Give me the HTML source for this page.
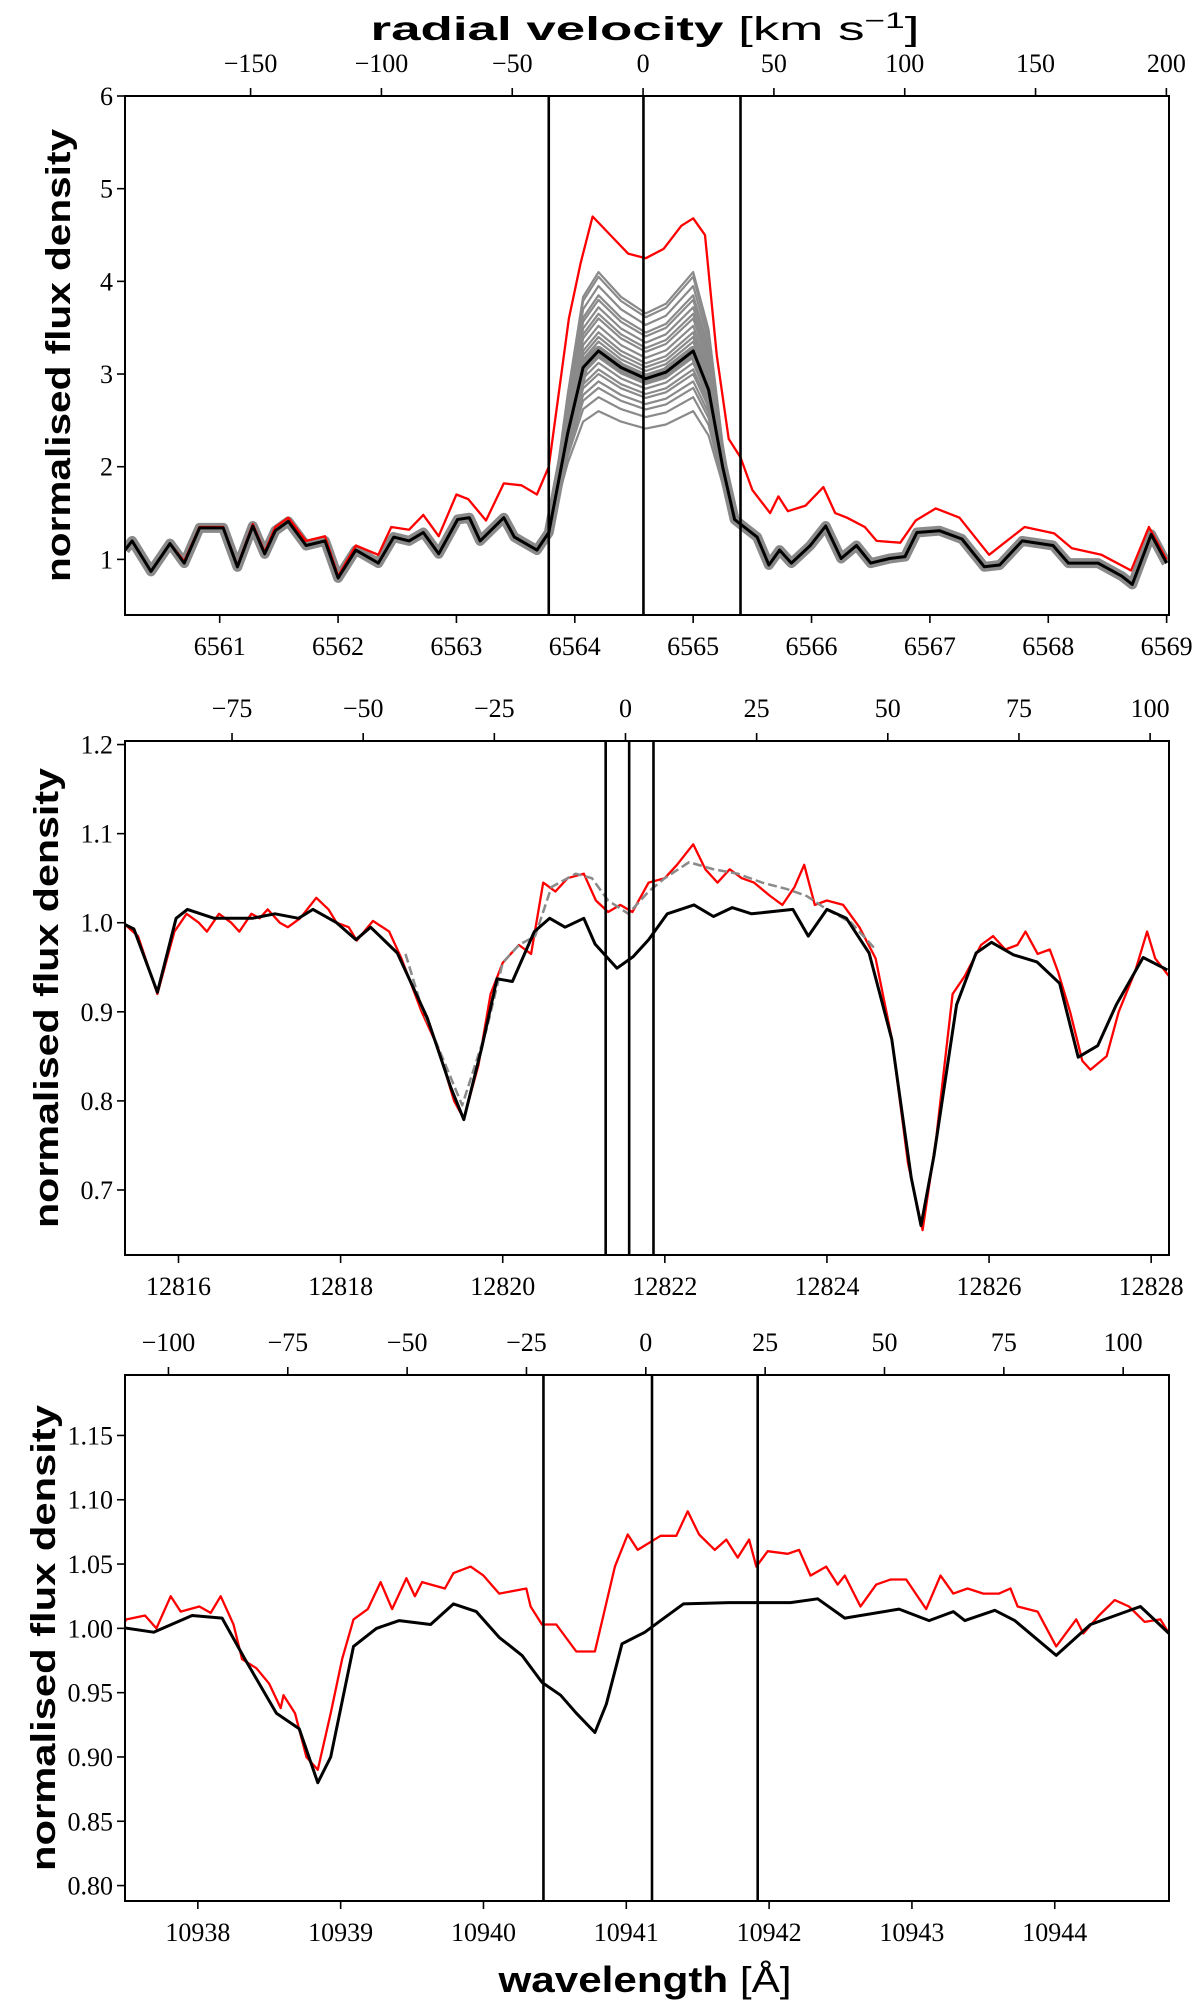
<!DOCTYPE html>
<html><head><meta charset="utf-8"><title>Spectral line profiles</title>
<style>
html,body{margin:0;padding:0;background:#fff;}
svg{display:block;}
.tl{font-family:"Liberation Serif",serif;font-size:26px;fill:#000;}
.ttl{font-family:"Liberation Sans",sans-serif;font-weight:bold;fill:#000;}
</style></head>
<body>
<svg id="fig" width="1200" height="2006" viewBox="0 0 1200 2006" xmlns="http://www.w3.org/2000/svg">
<text class="ttl" x="645" y="40" font-size="33" text-anchor="middle" textLength="549" lengthAdjust="spacingAndGlyphs">radial velocity <tspan font-weight="normal">[km s</tspan><tspan font-weight="normal" font-size="22" dy="-12">−1</tspan><tspan font-weight="normal" dy="12">]</tspan></text>
<text class="ttl" x="645" y="1992" font-size="36" text-anchor="middle" textLength="293" lengthAdjust="spacingAndGlyphs">wavelength <tspan font-weight="normal">[Å]</tspan></text>
</svg>
<script>
// ---------- Panel 1 (H-alpha) ----------
const p1BlackWl = [6560.2,6560.26,6560.42,6560.58,6560.7,6560.83,6561.03,6561.15,6561.28,6561.38,6561.47,6561.58,6561.73,6561.89,6562.0,6562.15,6562.34,6562.47,6562.6,6562.72,6562.85,6563.01,6563.11,6563.2,6563.4,6563.49,6563.68,6563.78,6563.94,6564.07,6564.2,6564.39,6564.6,6564.77,6565.0,6565.13,6565.25,6565.35,6565.54,6565.64,6565.73,6565.83,6565.99,6566.12,6566.25,6566.38,6566.5,6566.66,6566.79,6566.89,6567.08,6567.27,6567.46,6567.59,6567.78,6568.04,6568.17,6568.42,6568.62,6568.71,6568.87,6569.0];
const p1BlackFlux = [1.1,1.2,0.87,1.17,0.96,1.34,1.34,0.92,1.36,1.06,1.31,1.41,1.15,1.2,0.8,1.1,0.96,1.24,1.2,1.29,1.06,1.43,1.45,1.2,1.45,1.24,1.1,1.29,2.36,3.07,3.25,3.07,2.95,3.02,3.25,2.83,1.99,1.43,1.24,0.94,1.1,0.96,1.15,1.36,1.01,1.15,0.96,1.01,1.03,1.29,1.31,1.22,0.92,0.94,1.2,1.15,0.96,0.96,0.82,0.73,1.27,0.96];
const p1RedWl = [6560.2,6560.26,6560.42,6560.58,6560.7,6560.83,6561.03,6561.15,6561.28,6561.38,6561.47,6561.58,6561.73,6561.89,6562.0,6562.15,6562.34,6562.45,6562.6,6562.72,6562.85,6563.0,6563.1,6563.25,6563.4,6563.55,6563.68,6563.78,6563.95,6564.05,6564.15,6564.3,6564.45,6564.6,6564.75,6564.9,6565.0,6565.1,6565.2,6565.3,6565.4,6565.5,6565.65,6565.72,6565.8,6565.95,6566.1,6566.2,6566.3,6566.45,6566.55,6566.75,6566.88,6567.05,6567.25,6567.5,6567.8,6568.05,6568.2,6568.45,6568.7,6568.85,6569.0];
const p1RedFlux = [1.1,1.2,0.87,1.17,0.98,1.35,1.35,0.93,1.38,1.08,1.35,1.45,1.2,1.25,0.82,1.15,1.05,1.35,1.32,1.48,1.25,1.7,1.65,1.42,1.82,1.8,1.7,2.0,3.6,4.2,4.7,4.5,4.3,4.25,4.35,4.6,4.68,4.5,3.2,2.3,2.1,1.75,1.5,1.68,1.52,1.58,1.78,1.5,1.45,1.35,1.2,1.18,1.42,1.55,1.45,1.05,1.35,1.28,1.12,1.05,0.88,1.35,1.0];
const p1GreyPeaks = [4.1,4.05,3.95,3.85,3.8,3.72,3.65,3.6,3.52,3.45,3.4,3.35,3.28,3.18,3.12,3.05,3.0,2.92,2.85,2.75,2.6];
const p1Markers = [6563.78,6564.58,6565.40];
const p1YTicks = [1,2,3,4,5,6];
const p1XTicks = [6561,6562,6563,6564,6565,6566,6567,6568,6569];
const p1VTicks = [-150,-100,-50,0,50,100,150,200];

// ---------- Panel 2 (Pa-beta) ----------
const p2BlackWl = [12815.34,12815.45,12815.74,12815.97,12816.11,12816.44,12816.91,12817.19,12817.48,12817.66,12817.95,12818.19,12818.37,12818.7,12819.07,12819.36,12819.52,12819.74,12819.93,12820.12,12820.39,12820.58,12820.77,12821.0,12821.14,12821.41,12821.61,12821.8,12822.03,12822.36,12822.6,12822.83,12823.07,12823.58,12823.77,12824.0,12824.24,12824.52,12824.8,12825.04,12825.16,12825.32,12825.6,12825.84,12826.03,12826.3,12826.59,12826.87,12827.1,12827.34,12827.57,12827.9,12828.2];
const p2BlackFlux = [0.998,0.993,0.922,1.005,1.015,1.005,1.005,1.01,1.005,1.015,1.0,0.981,0.995,0.966,0.893,0.815,0.779,0.859,0.937,0.934,0.99,1.005,0.995,1.005,0.976,0.949,0.962,0.981,1.01,1.02,1.007,1.017,1.01,1.015,0.985,1.015,1.005,0.966,0.869,0.714,0.66,0.738,0.908,0.966,0.978,0.964,0.956,0.932,0.849,0.862,0.908,0.961,0.947];
const p2RedWl = [12815.34,12815.5,12815.74,12815.95,12816.1,12816.25,12816.35,12816.5,12816.65,12816.75,12816.9,12817.0,12817.1,12817.25,12817.35,12817.5,12817.7,12817.85,12817.95,12818.1,12818.2,12818.4,12818.6,12818.75,12819.0,12819.2,12819.4,12819.52,12819.7,12819.85,12820.0,12820.2,12820.35,12820.5,12820.65,12820.8,12821.0,12821.15,12821.3,12821.45,12821.6,12821.8,12822.0,12822.15,12822.35,12822.5,12822.65,12822.8,12822.95,12823.1,12823.3,12823.45,12823.6,12823.72,12823.85,12824.0,12824.2,12824.4,12824.6,12824.8,12825.0,12825.18,12825.35,12825.55,12825.7,12825.9,12826.05,12826.2,12826.35,12826.45,12826.6,12826.75,12826.85,12827.0,12827.15,12827.25,12827.45,12827.6,12827.8,12827.95,12828.05,12828.22];
const p2RedFlux = [0.998,0.985,0.92,0.99,1.01,1.0,0.99,1.01,1.0,0.99,1.01,1.005,1.015,1.0,0.995,1.005,1.028,1.015,1.0,0.995,0.98,1.002,0.99,0.96,0.9,0.86,0.8,0.78,0.84,0.92,0.955,0.975,0.965,1.045,1.035,1.05,1.055,1.025,1.012,1.02,1.012,1.045,1.05,1.065,1.088,1.06,1.045,1.06,1.05,1.045,1.03,1.02,1.04,1.065,1.02,1.025,1.02,0.995,0.96,0.87,0.73,0.655,0.76,0.92,0.94,0.975,0.985,0.97,0.975,0.99,0.965,0.97,0.945,0.9,0.845,0.835,0.85,0.9,0.945,0.99,0.96,0.94];
const p2GreyWl = [12818.8,12819.0,12819.5,12819.8,12820.0,12820.2,12820.4,12820.6,12820.9,12821.1,12821.3,12821.55,12821.8,12822.0,12822.3,12822.6,12822.9,12823.2,12823.5,12823.75,12824.0,12824.3,12824.6];
const p2GreyFlux = [0.965,0.905,0.795,0.88,0.955,0.975,0.985,1.04,1.055,1.05,1.025,1.01,1.035,1.05,1.068,1.06,1.055,1.045,1.038,1.03,1.015,1.0,0.97];
const p2Markers = [12821.27,12821.56,12821.86];
const p2YTicks = [0.7,0.8,0.9,1.0,1.1,1.2];
const p2XTicks = [12816,12818,12820,12822,12824,12826,12828];
const p2VTicks = [-75,-50,-25,0,25,50,75,100];

// ---------- Panel 3 (Pa-gamma) ----------
const p3BlackWl = [10937.45,10937.69,10937.96,10938.17,10938.33,10938.55,10938.71,10938.84,10938.93,10939.09,10939.25,10939.41,10939.63,10939.79,10939.95,10940.11,10940.27,10940.41,10940.54,10940.65,10940.78,10940.86,10940.97,10941.13,10941.24,10941.4,10941.72,10942.15,10942.34,10942.53,10942.91,10943.12,10943.29,10943.37,10943.58,10943.72,10944.01,10944.25,10944.6,10944.8];
const p3BlackFlux = [1.001,0.997,1.01,1.008,0.976,0.934,0.922,0.88,0.9,0.986,1.0,1.006,1.003,1.019,1.013,0.993,0.979,0.958,0.948,0.934,0.919,0.941,0.988,0.997,1.006,1.019,1.02,1.02,1.023,1.008,1.015,1.006,1.013,1.006,1.014,1.006,0.979,1.003,1.017,0.996];
const p3RedWl = [10937.45,10937.5,10937.63,10937.71,10937.81,10937.88,10938.01,10938.09,10938.16,10938.25,10938.31,10938.41,10938.5,10938.58,10938.6,10938.68,10938.76,10938.84,10938.93,10939.01,10939.09,10939.19,10939.28,10939.36,10939.46,10939.52,10939.57,10939.73,10939.79,10939.91,10940.0,10940.11,10940.3,10940.33,10940.41,10940.51,10940.65,10940.78,10940.92,10941.01,10941.08,10941.24,10941.35,10941.43,10941.51,10941.62,10941.7,10941.78,10941.86,10941.91,10941.99,10942.13,10942.21,10942.29,10942.4,10942.48,10942.53,10942.64,10942.75,10942.85,10942.96,10943.1,10943.2,10943.29,10943.39,10943.5,10943.61,10943.69,10943.74,10943.88,10944.01,10944.15,10944.2,10944.31,10944.42,10944.52,10944.63,10944.74,10944.8];
const p3RedFlux = [0.998,1.007,1.01,1.0,1.025,1.013,1.017,1.012,1.025,1.003,0.976,0.969,0.957,0.938,0.948,0.934,0.9,0.89,0.934,0.976,1.007,1.015,1.036,1.015,1.039,1.025,1.036,1.031,1.043,1.048,1.041,1.027,1.031,1.017,1.003,1.003,0.982,0.982,1.048,1.073,1.061,1.072,1.072,1.091,1.073,1.061,1.069,1.055,1.069,1.048,1.06,1.058,1.061,1.041,1.048,1.034,1.041,1.017,1.034,1.038,1.038,1.015,1.041,1.027,1.031,1.027,1.027,1.031,1.017,1.013,0.986,1.007,0.996,1.01,1.022,1.017,1.005,1.007,0.996];
const p3Markers = [10940.42,10941.18,10941.92];
const p3YTicks = [0.80,0.85,0.90,0.95,1.00,1.05,1.10,1.15];
const p3XTicks = [10938,10939,10940,10941,10942,10943,10944];
const p3VTicks = [-100,-75,-50,-25,0,25,50,75,100];

const NS = "http://www.w3.org/2000/svg";
const svg = document.getElementById('fig');
function mk(tag, attrs, parent){
  const e = document.createElementNS(NS, tag);
  for (const k in attrs) e.setAttribute(k, attrs[k]);
  (parent||svg).appendChild(e);
  return e;
}
function fmtMinus(v, dec){ const s = v.toFixed(dec); return s.replace('-', '\u2212'); }

function panel(cfg){
  const g = mk('g', {});
  
  
  const L=125, R=1169, T=cfg.top, B=cfg.bottom;
  const sx = w => L + (w - cfg.xmin) / (cfg.xmax - cfg.xmin) * (R - L);
  const sy = f => B - (f - cfg.ymin) / (cfg.ymax - cfg.ymin) * (B - T);
  const sv = v => L + (v - cfg.vmin) / (cfg.vmax - cfg.vmin) * (R - L);
  const clip = mk('clipPath', {id: cfg.name + '-clip'}, g);
  mk('rect', {x:L, y:T, width:R-L, height:B-T}, clip);
  const plot = mk('g', {'clip-path': 'url(#' + cfg.name + '-clip)'}, g);
  
  
  const pathOf = (wl, fl) => wl.map((w,i) => (i?'L':'M') + sx(w).toFixed(1) + ',' + sy(fl[i]).toFixed(1)).join(' ');
  (cfg.series || []).forEach(s => {
    const p = mk('path', {d: pathOf(s.wl, s.fl), fill:'none', stroke:s.color, 'stroke-width':s.w, 'stroke-linejoin':'round', 'stroke-dasharray': s.dash || 'none'}, plot);
    
    
  });
  cfg.markers.forEach(m => {
    const l = mk('line', {x1:sx(m), x2:sx(m), y1:T, y2:B, stroke:'#000', 'stroke-width':2.6}, g);
    
    
  });
  const frame = mk('rect', {x:L, y:T, width:R-L, height:B-T, fill:'none', stroke:'#000', 'stroke-width':2}, g);
  
  
  cfg.yTicks.forEach(t => {
    const y = sy(t);
    mk('line', {x1:L-8, x2:L, y1:y, y2:y, stroke:'#000', 'stroke-width':1.6}, g);
    const tx = mk('text', {x:L-12, y:y+9, 'text-anchor':'end', class:'tl'}, g);
    tx.textContent = t.toFixed(cfg.yDec);
    
    
  });
  cfg.xTicks.forEach(t => {
    const x = sx(t);
    mk('line', {x1:x, x2:x, y1:B, y2:B+8, stroke:'#000', 'stroke-width':1.6}, g);
    const tx = mk('text', {x:x, y:B+cfg.xLabOff, 'text-anchor':'middle', class:'tl'}, g);
    tx.textContent = String(t);
    
    
  });
  cfg.vTicks.forEach(t => {
    const x = sv(t);
    mk('line', {x1:x, x2:x, y1:T-8, y2:T, stroke:'#000', 'stroke-width':1.6}, g);
    const tx = mk('text', {x:x, y:T-24, 'text-anchor':'middle', class:'tl'}, g);
    tx.textContent = fmtMinus(t, 0);
    
    
  });
  const yc = (T + B) / 2;
  const yl = mk('text', {x:0, y:0, class:'ttl', 'font-size':34, 'text-anchor':'middle', transform:'translate(' + (cfg.ytx) + ',' + yc + ') rotate(-90)', textLength:cfg.ytLen, lengthAdjust:'spacingAndGlyphs'}, g);
  yl.textContent = 'normalised flux density';
  
  
}

// Grey individual spectra in panel 1 built from the mean profile scaled to observed peaks
const p1Series = [];
p1Series.push({wl:p1BlackWl, fl:p1BlackFlux, color:'#8a8a8a', w:10, label:'grey-spectra-band'});
p1GreyPeaks.forEach(pk => {
  const k = (pk - 1.5) / 1.75;
  p1Series.push({wl:p1BlackWl, fl:p1BlackFlux.map(f => f > 1.5 ? 1.5 + (f - 1.5) * k : f), color:'#8a8a8a', w:2.2, label:'grey-spectrum'});
});
p1Series.push({wl:p1RedWl, fl:p1RedFlux, color:'#ff0000', w:2.3, label:'red-spectrum'});
p1Series.push({wl:p1BlackWl, fl:p1BlackFlux, color:'#000', w:3, label:'black-mean-spectrum'});

panel({name:'halpha-panel', top:96, bottom:615, xmin:6560.2, xmax:6569.02, ymin:0.4, ymax:6, vmin:-198, vmax:201,
  yTicks:p1YTicks, yDec:0, xTicks:p1XTicks, vTicks:p1VTicks, markers:p1Markers, xLabOff:40, ytx:70, ytLen:453,
  series:p1Series});

panel({name:'pabeta-panel', top:741, bottom:1255, xmin:12815.34, xmax:12828.22, ymin:0.627, ymax:1.204, vmin:-95.4, vmax:103.6,
  yTicks:p2YTicks, yDec:1, xTicks:p2XTicks, vTicks:p2VTicks, markers:p2Markers, xLabOff:40, ytx:58, ytLen:460,
  series:[
    {wl:p2RedWl, fl:p2RedFlux, color:'#ff0000', w:2.3, label:'red-spectrum'},
    {wl:p2GreyWl, fl:p2GreyFlux, color:'#8a8a8a', w:2.5, dash:'9,4', label:'grey-dashed-spectrum'},
    {wl:p2BlackWl, fl:p2BlackFlux, color:'#000', w:3, label:'black-spectrum'}
  ]});

panel({name:'pagamma-panel', top:1375, bottom:1901, xmin:10937.49, xmax:10944.8, ymin:0.788, ymax:1.197, vmin:-109.1, vmax:109.6,
  yTicks:p3YTicks, yDec:2, xTicks:p3XTicks, vTicks:p3VTicks, markers:p3Markers, xLabOff:40, ytx:55, ytLen:466,
  series:[
    {wl:p3RedWl, fl:p3RedFlux, color:'#ff0000', w:2.3, label:'red-spectrum'},
    {wl:p3BlackWl, fl:p3BlackFlux, color:'#000', w:3, label:'black-spectrum'}
  ]});
</script>
</body></html>
